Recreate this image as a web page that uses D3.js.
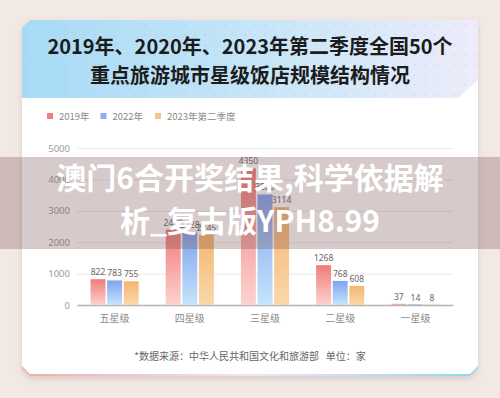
<!DOCTYPE html>
<html>
<head>
<meta charset="utf-8">
<script src="https://cdn.jsdelivr.net/npm/d3@7"></script>
<style>
  html, body { margin: 0; padding: 0; background: #f2e9e5; }
  svg { display: block; font-family: "Noto Sans CJK SC", "Noto Sans", sans-serif; }
</style>
</head>
<body>
<div id="chart"></div>
<script>
// data
const categories = ["五星级", "四星级", "三星级", "二星级", "一星级"];
const seriesNames = ["2019年", "2022年", "2023年第二季度"];
const values2019 = [822, 2400, 4350, 1268, 37];
const values2022 = [783, 2328, 3520, 768, 14];
const values2023q2 = [755, 2245, 3114, 608, 8];
const yTicks = [0, 1000, 2000, 3000, 4000, 5000];
const titleLines = ["2019年、2020年、2023年第二季度全国50个", "重点旅游城市星级饭店规模结构情况"];
const overlayLines = ["澳门6合开奖结果,科学依据解", "析_复古版YPH8.99"];
const footnote = "*数据来源：中华人民共和国文化和旅游部   单位：家";

const W = 500, H = 398;
const colors = [
  { top: "#f07b7b", bottom: "#fcd3cf" },
  { top: "#7fa4f0", bottom: "#c6e4fb" },
  { top: "#f4b66f", bottom: "#fad8ab" }
];
const legendColors = ["#ee8080", "#8eaaf0", "#f2c494"];

const svg = d3.select("#chart").append("svg")
  .attr("width", W)
  .attr("height", H);

const defs = svg.append("defs");

// header gradient + dots
const hg = defs.append("linearGradient").attr("id", "headGrad")
  .attr("x1", 0).attr("y1", 0).attr("x2", 1).attr("y2", 0);
hg.append("stop").attr("offset", "0%").attr("stop-color", "#a7dbf5");
hg.append("stop").attr("offset", "55%").attr("stop-color", "#c9e6f8");
hg.append("stop").attr("offset", "100%").attr("stop-color", "#eeecfa");

const pat = defs.append("pattern").attr("id", "dots")
  .attr("width", 10).attr("height", 10).attr("patternUnits", "userSpaceOnUse");
pat.append("circle").attr("cx", 5).attr("cy", 5).attr("r", 0.7)
  .attr("fill", "rgba(110,160,200,0.3)");

const bg = defs.append("linearGradient").attr("id", "borderGrad")
  .attr("x1", 0).attr("y1", 0).attr("x2", 1).attr("y2", 0);
bg.append("stop").attr("offset", "0%").attr("stop-color", "#f4aaa8");
bg.append("stop").attr("offset", "50%").attr("stop-color", "#efe6f2");
bg.append("stop").attr("offset", "100%").attr("stop-color", "#8ed6ef");

const sh = defs.append("filter").attr("id", "shadow")
  .attr("x", "-10%").attr("y", "-10%").attr("width", "120%").attr("height", "120%");
sh.append("feDropShadow").attr("dx", 0).attr("dy", 3).attr("stdDeviation", 3)
  .attr("flood-color", "#8a7570").attr("flood-opacity", 0.25);

colors.forEach((c, i) => {
  const g = defs.append("linearGradient").attr("id", "bar" + i)
    .attr("x1", 0).attr("y1", 0).attr("x2", 0).attr("y2", 1);
  g.append("stop").attr("offset", "0%").attr("stop-color", c.top);
  g.append("stop").attr("offset", "100%").attr("stop-color", c.bottom);
});

// card
const L = 22, R = 478, T = 20, B = 376, cut = 8;
svg.append("path")
  .attr("d", `M${L},${T + cut} L${L + cut},${T} L${R},${T} L${R},${B - cut} L${R - cut},${B} L${L + cut},${B} L${L},${B - cut} Z`)
  .attr("fill", "url(#borderGrad)")
  .attr("filter", "url(#shadow)");
svg.append("path")
  .attr("d", `M${L},${T + cut} L${L + cut},${T} L${R},${T} L${R},${B - 2 - cut} L${R - cut},${B - 2} L${L + cut},${B - 2} L${L},${B - 2 - cut} Z`)
  .attr("fill", "#ffffff");

// header
const headBottom = 98;
const headPath = `M${L},${T + cut} L${L + cut},${T} L${R},${T} L${R},${headBottom - 18} L${R - 20},${headBottom} L${L},${headBottom} Z`;
svg.append("path").attr("d", headPath).attr("fill", "url(#headGrad)");
svg.append("path").attr("d", headPath).attr("fill", "url(#dots)");

svg.selectAll(".title")
  .data(titleLines)
  .enter().append("text")
  .attr("class", "title")
  .attr("x", W / 2)
  .attr("y", (d, i) => 54 + i * 29)
  .attr("text-anchor", "middle")
  .attr("font-size", 20)
  .attr("font-weight", 700)
  .attr("fill", "#1c1c1c")
  .text(d => d);

// legend
const legendX = [47, 100.5, 155];
const lg = svg.selectAll(".legend")
  .data(seriesNames)
  .enter().append("g")
  .attr("class", "legend")
  .attr("transform", (d, i) => `translate(${legendX[i]},113)`);
lg.append("rect").attr("width", 6).attr("height", 6)
  .attr("fill", (d, i) => legendColors[i]);
lg.append("text").attr("x", 12).attr("y", 7)
  .attr("font-size", 9.5).attr("fill", "#8a8a8a")
  .text(d => d);

// scales
const x0 = d3.scaleBand().domain(categories).range([77, 453]).paddingInner(0.36).paddingOuter(0.18);
const x1 = d3.scaleBand().domain(seriesNames).range([0, x0.bandwidth()]).paddingInner(0.1);
const y = d3.scaleLinear().domain([0, 5000]).range([305, 148]);

const plot = svg.append("g");

// grid + y labels
const yAxis = d3.axisLeft(y).tickValues(yTicks).tickFormat(d3.format("d"))
  .tickSize(-(453 - 77)).tickPadding(7);
const ya = plot.append("g").attr("transform", "translate(77,0)").call(yAxis);
ya.select(".domain").remove();
ya.selectAll(".tick line").attr("stroke", "#e8e8e8");
ya.selectAll(".tick text").attr("fill", "#9a9a9a").attr("font-size", 9.5)
  .attr("font-family", "\"Noto Sans\", sans-serif");

// x axis
const xAxis = d3.axisBottom(x0).tickSize(0).tickPadding(10);
const xa = plot.append("g").attr("transform", "translate(0,305)").call(xAxis);
xa.select(".domain").attr("stroke", "#b4b4b4").attr("stroke-width", 1.5);
xa.selectAll(".tick text").attr("fill", "#8a8a8a").attr("font-size", 10)
  .attr("font-family", "\"Noto Sans CJK SC\", sans-serif");

// bars
const rows = categories.map((c, i) => ({
  cat: c,
  vals: [values2019[i], values2022[i], values2023q2[i]].map((v, k) => ({ key: seriesNames[k], k: k, v: v }))
}));

const groups = plot.selectAll(".grp")
  .data(rows)
  .enter().append("g")
  .attr("class", "grp")
  .attr("transform", d => `translate(${x0(d.cat)},0)`);

groups.selectAll("rect")
  .data(d => d.vals)
  .enter().append("rect")
  .attr("x", d => x1(d.key))
  .attr("y", d => y(d.v))
  .attr("width", x1.bandwidth())
  .attr("height", d => y(0) - y(d.v))
  .attr("fill", d => "url(#bar" + d.k + ")");

groups.selectAll(".val")
  .data(d => d.vals)
  .enter().append("text")
  .attr("class", "val")
  .attr("x", d => x1(d.key) + x1.bandwidth() / 2)
  .attr("y", d => y(d.v) - 4)
  .attr("text-anchor", "middle")
  .attr("font-size", 8.5)
  .attr("fill", "#666")
  .attr("font-family", "\"Noto Sans\", sans-serif")
  .text(d => d.v);

// footnote
svg.append("text")
  .attr("x", W / 2)
  .attr("y", 360)
  .attr("text-anchor", "middle")
  .attr("font-size", 10)
  .attr("fill", "#666")
  .attr("xml:space", "preserve")
  .style("white-space", "pre")
  .text(footnote);

// translucent overlay band with white text
svg.append("rect")
  .attr("x", 0).attr("y", 157)
  .attr("width", W).attr("height", 92)
  .attr("fill", "rgba(120,80,80,0.3)");

svg.selectAll(".ov")
  .data(overlayLines)
  .enter().append("text")
  .attr("class", "ov")
  .attr("x", W / 2)
  .attr("y", (d, i) => 189 + i * 43)
  .attr("text-anchor", "middle")
  .attr("font-size", 30)
  .attr("font-weight", 700)
  .attr("fill", "#ffffff")
  .text(d => d);
</script>
</body>
</html>
